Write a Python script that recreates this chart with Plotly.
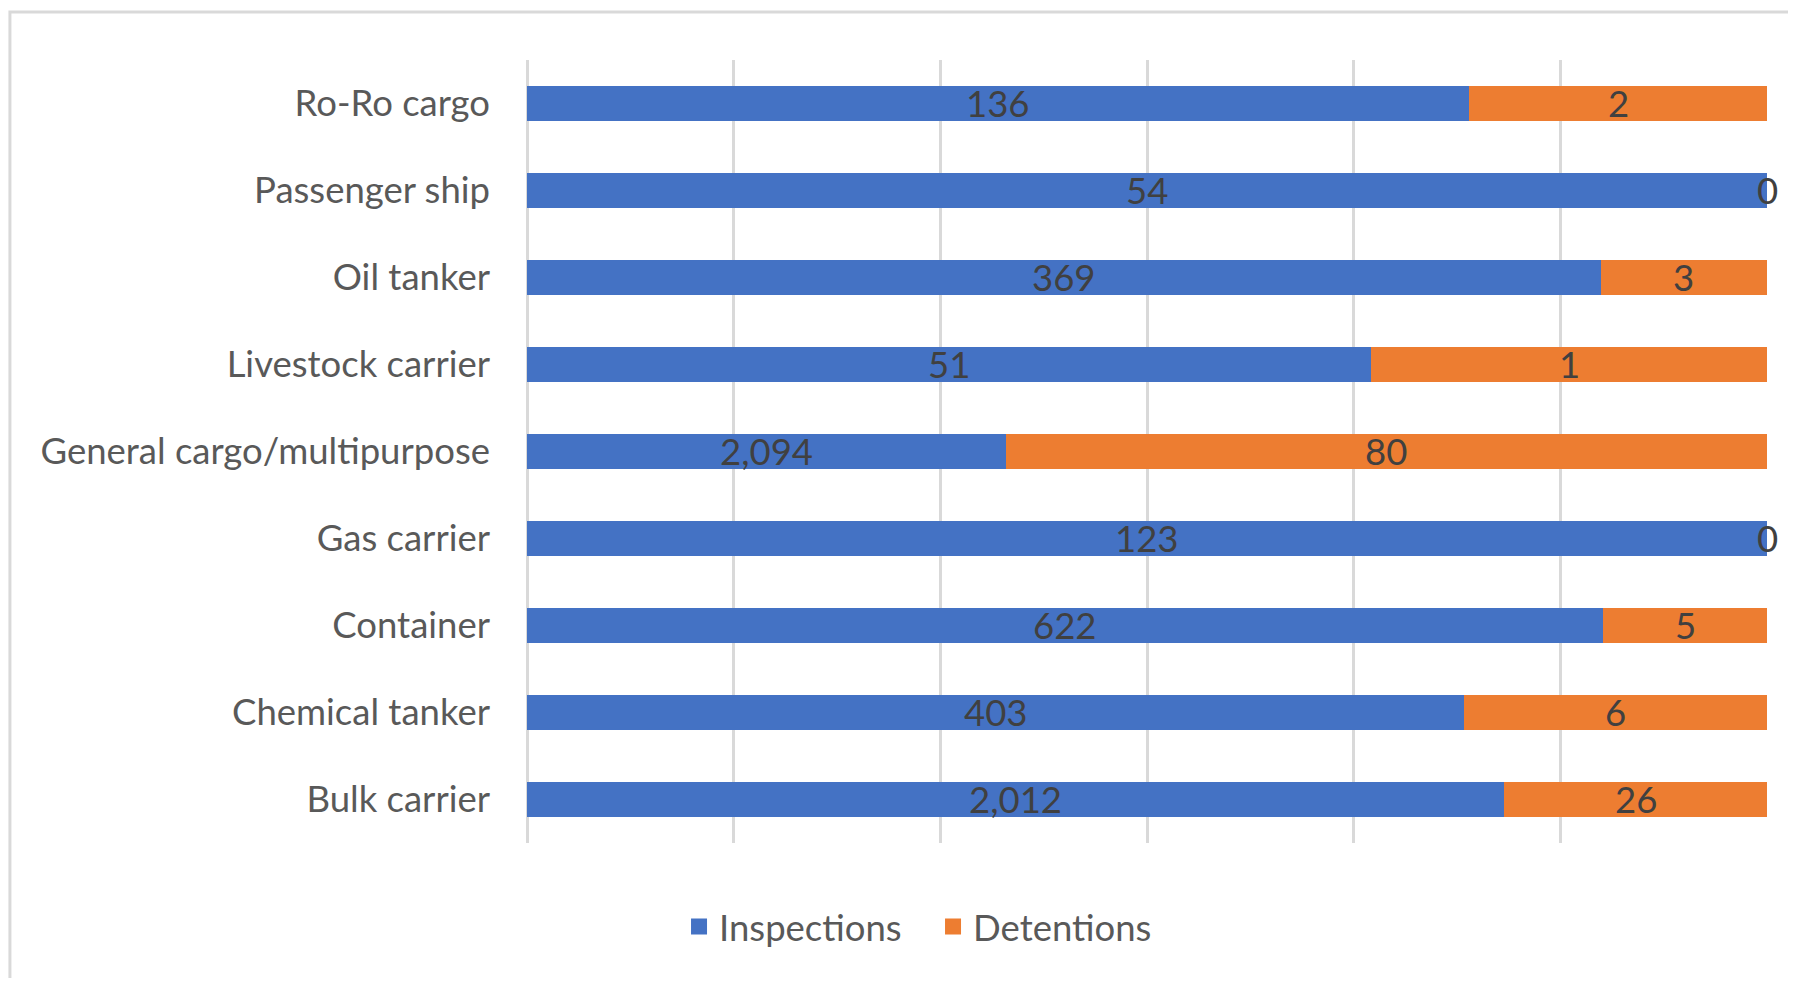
import plotly.graph_objects as go

# Categories (bottom to top, as drawn)
categories = ["Bulk carrier", "Chemical tanker", "Container", "Gas carrier",
              "General cargo/multipurpose", "Livestock carrier", "Oil tanker",
              "Passenger ship", "Ro-Ro cargo"]
# Data label values shown on the bars
inspections = [2012, 403, 622, 123, 2094, 51, 369, 54, 136]
detentions = [26, 6, 5, 0, 80, 1, 3, 0, 2]
# Bar segment shares as drawn in the chart (100% stacked)
inspection_share = [0.788, 0.756, 0.868, 1.0, 0.386, 0.681, 0.866, 1.0, 0.760]
detention_share = [0.212, 0.244, 0.132, 0.0, 0.614, 0.319, 0.134, 0.0, 0.240]
series_names = ["Inspections", "Detentions"]

BLUE = "#4472C4"
ORANGE = "#ED7D31"
FONT = "Lato"
LABEL_COLOR = "#404040"
AXIS_COLOR = "#595959"
FS = 36.5

fig = go.Figure()
fig.add_trace(go.Bar(y=categories, x=inspection_share, orientation="h", name=series_names[0],
                     marker=dict(color=BLUE, line=dict(width=0)), showlegend=False,
                     customdata=inspections, hovertemplate="%{y}: %{customdata:,}<extra>Inspections</extra>"))
fig.add_trace(go.Bar(y=categories, x=detention_share, orientation="h", name=series_names[1],
                     marker=dict(color=ORANGE, line=dict(width=0)), showlegend=False,
                     customdata=detentions, hovertemplate="%{y}: %{customdata:,}<extra>Detentions</extra>"))

# legend proxies
for name, col in zip(series_names, [BLUE, ORANGE]):
    fig.add_trace(go.Scatter(x=[None], y=[None], mode="markers", name=name,
                             marker=dict(symbol="square", size=16, color=col)))

# data labels centred on each segment
annotations = []
for cat, s_i, s_d, v_i, v_d in zip(categories, inspection_share, detention_share, inspections, detentions):
    for xc, v in ((s_i / 2, v_i), (s_i + s_d / 2, v_d)):
        annotations.append(dict(x=xc, y=cat, xref="x", yref="y", text=f"{v:,}", showarrow=False,
                                xanchor="center", yanchor="middle", yshift=1,
                                font=dict(family=FONT, size=FS, color=LABEL_COLOR)))

fig.update_layout(
    width=1780, height=970,
    margin=dict(l=519, r=21, t=52, b=135),
    paper_bgcolor="white", plot_bgcolor="white",
    barmode="stack", bargap=0.6,
    font=dict(family=FONT, size=FS, color=AXIS_COLOR),
    showlegend=True,
    legend=dict(orientation="h", x=0.1226, xanchor="left", y=-0.107, yanchor="middle",
                traceorder="normal", entrywidth=209, entrywidthmode="pixels",
                font=dict(family=FONT, size=FS, color=AXIS_COLOR),
                itemsizing="trace", bgcolor="rgba(0,0,0,0)"),
    xaxis=dict(range=[0, 1], dtick=1/6, tick0=0, showticklabels=False,
               showgrid=True, gridcolor="#D9D9D9", gridwidth=3,
               zeroline=True, zerolinecolor="#D9D9D9", zerolinewidth=3,
               showline=False, fixedrange=True),
    yaxis=dict(categoryorder="array", categoryarray=categories, showgrid=False,
               ticks="", ticklabelstandoff=36, showline=False,
               tickfont=dict(family=FONT, size=FS, color=AXIS_COLOR), fixedrange=True),
    annotations=annotations,
    shapes=[dict(type="rect", xref="paper", yref="paper", x0=-0.417, x1=1.3, y0=-0.5, y1=1.0613,
                 line=dict(color="#D9D9D9", width=3), layer="below")],
)

fig.write_html("out.html")
